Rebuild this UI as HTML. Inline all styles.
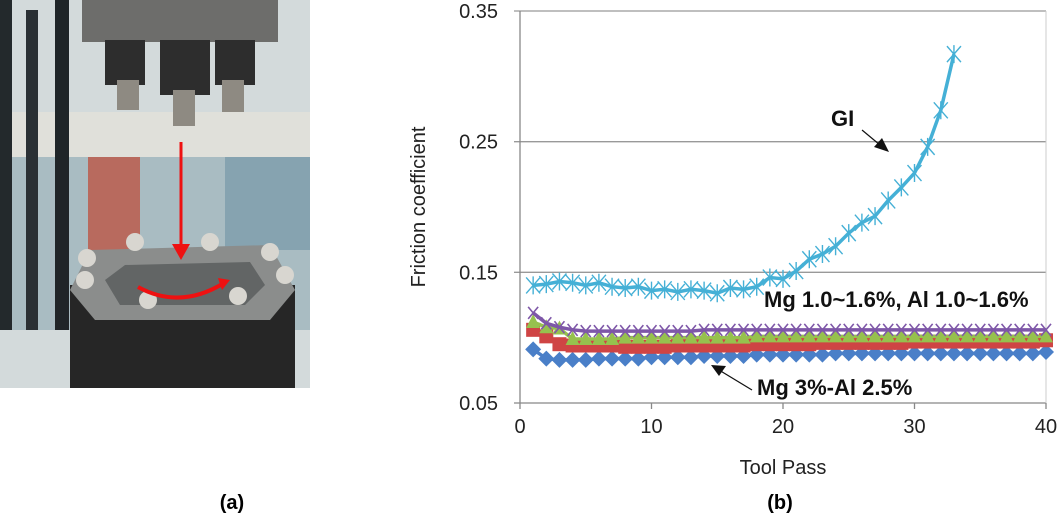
<!DOCTYPE html>
<html><head><meta charset="utf-8"><style>
body{margin:0;background:#fff;width:1061px;height:521px;overflow:hidden;font-family:"Liberation Sans","Noto Sans CJK KR",sans-serif}
svg{position:absolute;left:0;top:0}
</style></head><body>
<svg width="1061" height="521">
<g>
  <rect x="0" y="0" width="310" height="388" fill="#d3dadb"/>
  <rect x="10" y="150" width="300" height="180" fill="#a9bcc2"/>
  <rect x="88" y="157" width="52" height="108" fill="#b86a5e"/>
  <rect x="225" y="155" width="85" height="95" fill="#86a3b0"/>
  <rect x="0" y="112" width="310" height="45" fill="#e0e0da"/>
  <rect x="0" y="0" width="12" height="330" fill="#23292c"/>
  <rect x="26" y="10" width="12" height="320" fill="#2a3034"/>
  <rect x="55" y="0" width="14" height="330" fill="#1f2528"/>
  <rect x="82" y="0" width="196" height="42" fill="#6d6d6b"/>
  <rect x="105" y="40" width="40" height="45" fill="#2d2d2d"/>
  <rect x="160" y="40" width="50" height="55" fill="#2d2d2d"/>
  <rect x="215" y="40" width="40" height="45" fill="#2d2d2d"/>
  <rect x="117" y="80" width="22" height="30" fill="#8e8a82"/>
  <rect x="173" y="90" width="22" height="36" fill="#8e8a82"/>
  <rect x="222" y="80" width="22" height="32" fill="#8e8a82"/>
  <rect x="70" y="285" width="225" height="103" fill="#262626"/>
  <polygon points="70,290 90,250 270,245 295,290 270,320 95,320" fill="#8b8d8c"/>
  <polygon points="105,280 125,265 250,262 265,285 245,305 120,305" fill="#626565"/>
  <g fill="#d8d6d0"><circle cx="87" cy="258" r="9"/><circle cx="135" cy="242" r="9"/><circle cx="210" cy="242" r="9"/><circle cx="270" cy="252" r="9"/><circle cx="85" cy="280" r="9"/><circle cx="285" cy="275" r="9"/><circle cx="148" cy="300" r="9"/><circle cx="238" cy="296" r="9"/></g>
  <line x1="181" y1="142" x2="181" y2="252" stroke="#e11" stroke-width="3"/>
  <polygon points="172,244 181,260 190,244" fill="#e11"/>
  <path d="M138,287 Q180,310 224,283" fill="none" stroke="#e11" stroke-width="4"/>
  <polygon points="218,278 230,280 222,290" fill="#e11"/>
</g>
<text x="232" y="509" font-size="20" font-weight="bold" text-anchor="middle">(a)</text>
<text x="780" y="509" font-size="20" font-weight="bold" text-anchor="middle">(b)</text>
<g id="chart"></g>
</svg>
<script>
const xTicks=[0,10,20,30,40];
const yTicks=[0.05,0.15,0.25,0.35];
const yTickLabels=["0.05","0.15","0.25","0.35"];
const giValues=[0.140,0.141,0.143,0.142,0.140,0.142,0.139,0.138,0.139,0.136,0.137,0.135,0.137,0.136,0.134,0.138,0.137,0.139,0.146,0.145,0.151,0.160,0.164,0.170,0.180,0.188,0.193,0.205,0.215,0.226,0.246,0.274,0.317];
const blueValues=[0.091,0.084,0.083,0.083,0.083,0.084,0.084,0.084,0.084,0.085,0.085,0.085,0.085,0.086,0.086,0.086,0.086,0.087,0.087,0.087,0.087,0.087,0.087,0.088,0.088,0.088,0.088,0.088,0.088,0.088,0.088,0.088,0.088,0.088,0.088,0.088,0.088,0.088,0.088,0.089];
const redValues=[0.106,0.101,0.095,0.094,0.094,0.094,0.094,0.093,0.093,0.093,0.093,0.094,0.094,0.094,0.094,0.094,0.094,0.095,0.095,0.095,0.095,0.095,0.096,0.096,0.096,0.096,0.096,0.096,0.096,0.097,0.097,0.097,0.097,0.097,0.097,0.097,0.097,0.097,0.097,0.098];
const greenValues=[0.112,0.108,0.107,0.099,0.099,0.099,0.099,0.100,0.100,0.100,0.100,0.100,0.100,0.100,0.100,0.100,0.100,0.101,0.101,0.101,0.101,0.101,0.101,0.101,0.101,0.101,0.101,0.101,0.101,0.101,0.101,0.101,0.101,0.101,0.101,0.101,0.101,0.101,0.101,0.101];
const purpleValues=[0.119,0.111,0.108,0.106,0.105,0.105,0.105,0.105,0.105,0.105,0.105,0.105,0.105,0.106,0.106,0.106,0.106,0.106,0.106,0.106,0.106,0.106,0.106,0.106,0.106,0.106,0.106,0.106,0.106,0.106,0.106,0.106,0.106,0.106,0.106,0.106,0.106,0.106,0.106,0.106];
const NS="http://www.w3.org/2000/svg";
const g=document.getElementById('chart');
const X0=520,X1=1046,Y0=403,Y1=11;
const xs=v=>X0+(v-0)/40*(X1-X0);
const ys=v=>Y0-(v-0.05)/0.3*(Y0-Y1);
function mk(t,a,p){const e=document.createElementNS(NS,t);for(const k in a)e.setAttribute(k,a[k]);(p||g).appendChild(e);return e;}
yTicks.forEach((t,i)=>{
  const l=mk('line',{x1:X0-6,x2:X1,y1:ys(t),y2:ys(t),stroke:i==0?'#888':'#999','stroke-width':1.3});
  
  
  const tx=mk('text',{x:X0-22,y:ys(t)+7,'font-size':20,'text-anchor':'end',fill:'#222'});tx.textContent=yTickLabels[i];
  
  
});
const ax=mk('line',{x1:X0,x2:X0,y1:Y1,y2:Y0,stroke:'#888','stroke-width':1.3});


const rx=mk('line',{x1:X1,x2:X1,y1:Y1,y2:Y0,stroke:'#ccc','stroke-width':1});


xTicks.forEach(t=>{
  const l=mk('line',{x1:xs(t),x2:xs(t),y1:Y0,y2:Y0+6,stroke:'#888','stroke-width':1.3});
  
  
  const tx=mk('text',{x:xs(t),y:Y0+30,'font-size':20,'text-anchor':'middle',fill:'#222'});tx.textContent=t;
  
  
});
const xt=mk('text',{x:783,y:474,'font-size':20,'text-anchor':'middle',fill:'#222'});xt.textContent='Tool Pass';


const yt=mk('text',{x:0,y:0,'font-size':20,'text-anchor':'middle',fill:'#222',transform:'translate(425,207) rotate(-90)'});yt.textContent='Friction coefficient';


function series(vals,color,shape,name){
  const sg=mk('g',{});
  
  
  mk('polyline',{points:vals.map((v,i)=>xs(i+1)+','+ys(v)).join(' '),fill:'none',stroke:color,'stroke-width':3.5},sg);
  vals.forEach((v,i)=>{
    const x=xs(i+1),y=ys(v);let m;
    if(shape=='diamond')m=mk('polygon',{points:`${x},${y-8} ${x+8},${y} ${x},${y+8} ${x-8},${y}`,fill:color},sg);
    else if(shape=='square')m=mk('rect',{x:x-7,y:y-7,width:14,height:14,fill:color},sg);
    else if(shape=='tri')m=mk('polygon',{points:`${x},${y-8} ${x+7},${y+6} ${x-7},${y+6}`,fill:color},sg);
    else if(shape=='x')m=mk('path',{d:`M${x-5},${y-6}L${x+5},${y+6}M${x+5},${y-6}L${x-5},${y+6}`,stroke:color,'stroke-width':1.6},sg);
    else m=mk('path',{d:`M${x-7},${y-8}L${x+7},${y+8}M${x+7},${y-8}L${x-7},${y+8}M${x},${y-9}L${x},${y+9}`,stroke:color,'stroke-width':1.4},sg);
    
    
  });
}
series(blueValues,'#4a7fc8','diamond','series-mg3-al2.5');
series(redValues,'#cf4444','square','series-red');
series(greenValues,'#96c14e','tri','series-green');
series(purpleValues,'#7e57a8','x','series-purple');
series(giValues,'#45b0d6','star','series-gi');
function ann(txt,x,y,name){const t=mk('text',{x:x,y:y,'font-size':22,'font-weight':'bold',fill:'#111'});t.textContent=txt;
  
  }
ann('GI',831,126,'gi-annotation');
ann('Mg 1.0~1.6%, Al 1.0~1.6%',764,307,'mg-al-annotation');
ann('Mg 3%-Al 2.5%',757,395,'mg3-annotation');
mk('line',{x1:862,y1:130,x2:880,y2:145,stroke:'#111','stroke-width':1.2});
mk('polygon',{points:'889,152 874,147 882,138',fill:'#111'});
mk('line',{x1:752,y1:390,x2:719,y2:370,stroke:'#111','stroke-width':1.2});
mk('polygon',{points:'711,365 726,366 719,376',fill:'#111'});
</script>
</body></html>
